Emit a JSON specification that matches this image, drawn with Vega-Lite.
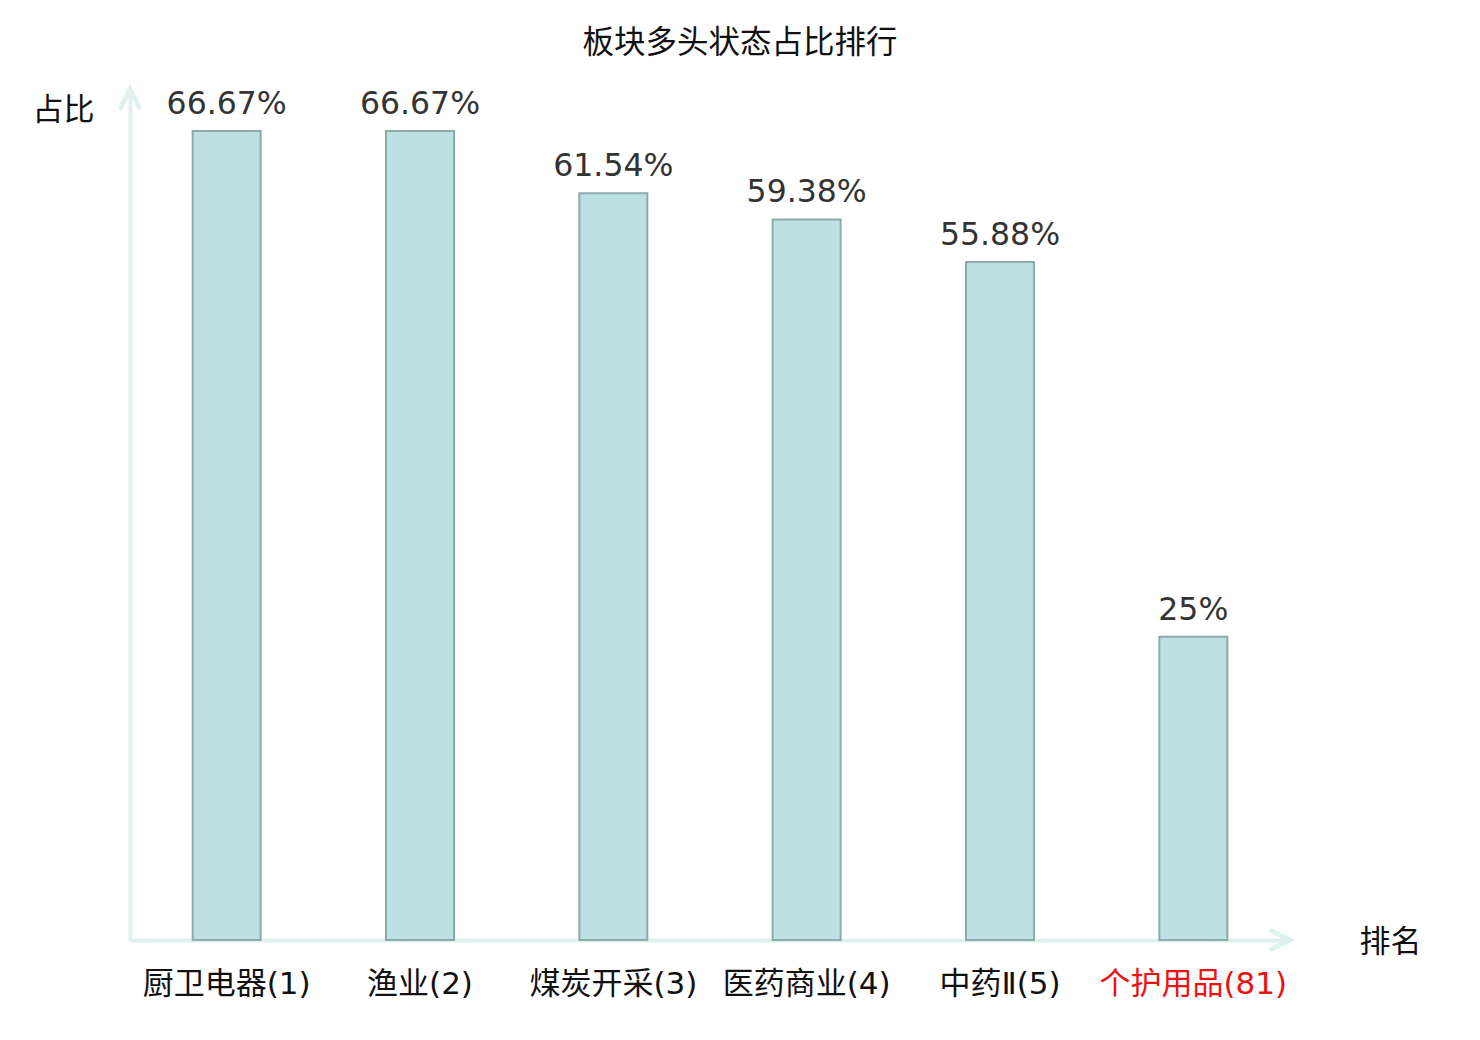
{
  "$schema": "https://vega.github.io/schema/vega-lite/v6.json",
  "autosize": "none",
  "padding": {"left": 130, "top": 89, "right": 190, "bottom": 100},
  "width": 1160,
  "height": 851,
  "background": "white",
  "title": {
    "text": "板块多头状态占比排行",
    "font": "Noto Sans CJK SC",
    "fontSize": 31.5,
    "fontWeight": "normal",
    "color": "#111111",
    "anchor": "middle",
    "frame": "group",
    "dx": 30,
    "offset": 22
  },
  "config": {
    "view": {"stroke": null},
    "axis": {"grid": false}
  },
  "data": {
    "values": [
      {"name": "厨卫电器(1)", "ratio": 0.6667},
      {"name": "渔业(2)", "ratio": 0.6667},
      {"name": "煤炭开采(3)", "ratio": 0.6154},
      {"name": "医药商业(4)", "ratio": 0.5938},
      {"name": "中药Ⅱ(5)", "ratio": 0.5588},
      {"name": "个护用品(81)", "ratio": 0.25}
    ]
  },
  "encoding": {
    "x": {
      "field": "name",
      "type": "nominal",
      "sort": null,
      "scale": {"paddingInner": 0, "paddingOuter": 0},
      "axis": {
        "title": "排名",
        "titleFont": "Noto Sans CJK SC",
        "titleFontSize": 31,
        "titleFontWeight": "normal",
        "titleColor": "#111111",
        "titleX": 1260,
        "titleY": 2,
        "titleAlign": "center",
        "titleBaseline": "middle",
        "labelAngle": 0,
        "labelFont": "DejaVu Sans, Noto Sans CJK SC",
        "labelFontSize": 31,
        "labelPadding": 29,
        "labelLimit": 0,
        "labelOverlap": false,
        "labelColor": {"condition": {"test": "datum.value === '个护用品(81)'", "value": "#ee1111"}, "value": "#111111"},
        "ticks": false,
        "domainColor": "#dff1ee",
        "domainWidth": 4
      }
    },
    "y": {
      "field": "ratio",
      "type": "quantitative",
      "scale": {"domain": [0, 0.7013], "nice": false},
      "axis": {
        "title": "占比",
        "titleFont": "Noto Sans CJK SC",
        "titleFontSize": 31,
        "titleFontWeight": "normal",
        "titleColor": "#111111",
        "titleAngle": 0,
        "titleX": -67,
        "titleY": 21,
        "titleAlign": "center",
        "titleBaseline": "middle",
        "labels": false,
        "ticks": false,
        "domainColor": "#dff1ee",
        "domainWidth": 4
      }
    }
  },
  "layer": [
    {
      "mark": {"type": "bar", "size": 68, "fill": "#bde0e3", "stroke": "#8eabab", "strokeWidth": 2}
    },
    {
      "mark": {"type": "text", "font": "DejaVu Sans", "fontSize": 31.5, "color": "#333333", "baseline": "alphabetic", "dy": -17},
      "encoding": {
        "text": {"field": "ratio", "type": "quantitative", "format": ".2~%"}
      }
    },
    {
      "mark": {"type": "point", "shape": "M-0.5,1L0,0L0.5,1", "size": 1600, "filled": false, "stroke": "#dff1ee", "strokeWidth": 4, "opacity": 1},
      "encoding": {
        "x": {"value": 0},
        "y": {"value": 0}
      }
    },
    {
      "mark": {"type": "point", "shape": "M-1,-0.5L0,0L-1,0.5", "size": 1600, "filled": false, "stroke": "#dff1ee", "strokeWidth": 4, "opacity": 1},
      "encoding": {
        "x": {"value": "width"},
        "y": {"value": "height"}
      }
    }
  ]
}
